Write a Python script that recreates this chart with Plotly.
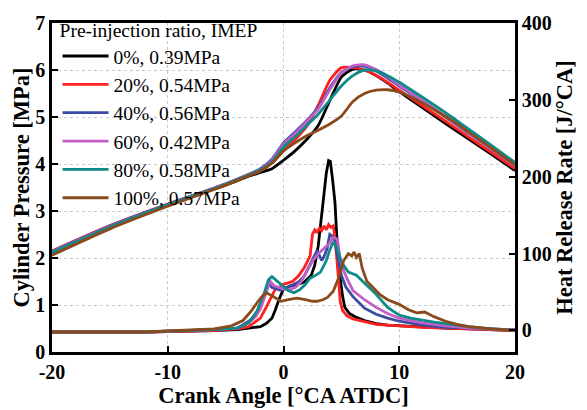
import plotly.graph_objects as go

names = ["0%, 0.39MPa", "20%, 0.54MPa", "40%, 0.56MPa", "60%, 0.42MPa", "80%, 0.58MPa", "100%, 0.57MPa"]
colors = ["#000000", "#ff2020", "#3b4aa3", "#c25ec6", "#0f8a8a", "#8b4a1c"]

# Cylinder pressure [MPa]
p_x = [-20, -15, -10, -5, -3, -2, -1, 0, 1, 2, 3, 4, 5, 6, 7, 8, 9, 10, 12, 14, 16, 18, 20]
p_black = [2.12, 2.66, 3.12, 3.55, 3.74, 3.82, 3.9, 4.08, 4.28, 4.52, 4.82, 5.35, 5.85, 6.02, 6.0, 5.88, 5.72, 5.54, 5.2, 4.86, 4.53, 4.2, 3.86]
p_red = [2.15, 2.69, 3.15, 3.57, 3.76, 3.86, 4.02, 4.28, 4.52, 4.8, 5.25, 5.78, 6.05, 6.05, 6.0, 5.89, 5.74, 5.57, 5.24, 4.91, 4.57, 4.24, 3.9]
p_blue = [2.14, 2.68, 3.14, 3.58, 3.78, 3.9, 4.1, 4.45, 4.68, 4.92, 5.2, 5.62, 5.95, 6.07, 6.08, 5.98, 5.83, 5.66, 5.33, 5.0, 4.65, 4.31, 3.96]
p_pink = [2.13, 2.67, 3.13, 3.58, 3.78, 3.89, 4.08, 4.42, 4.65, 4.9, 5.17, 5.58, 5.94, 6.09, 6.11, 6.01, 5.86, 5.68, 5.35, 5.01, 4.66, 4.31, 3.96]
p_teal = [2.12, 2.66, 3.13, 3.57, 3.77, 3.88, 4.05, 4.36, 4.58, 4.82, 5.06, 5.36, 5.66, 5.88, 6.0, 5.98, 5.88, 5.74, 5.42, 5.09, 4.74, 4.39, 4.03]
p_brown = [2.06, 2.62, 3.1, 3.55, 3.75, 3.85, 4.02, 4.28, 4.45, 4.6, 4.72, 4.85, 5.02, 5.33, 5.5, 5.57, 5.58, 5.53, 5.3, 5.01, 4.68, 4.33, 3.98]

# Heat release rate [J/°CA]
h_black_x = [-20, -12, -6, -4, -3, -2, -1.5, -1, -0.7, -0.4, 0, 0.6, 1.2, 1.8, 2.4, 2.7, 3.0, 3.2, 3.45, 3.7, 3.9, 4.05, 4.25, 4.45, 4.6, 4.75, 4.9, 5.1, 5.3, 5.7, 6.3, 7, 8, 9, 10, 12, 14, 16, 18, 20]
h_black = [-2, -2, 0, 1, 3, 5, 9, 16, 27, 40, 54, 58, 60, 63, 72, 85, 110, 135, 166, 205, 221, 220, 195, 166, 123, 95, 68, 45, 30, 22, 17, 13, 9, 7, 6, 4, 3, 2, 1, 0]
h_red_x = [-20, -12, -6, -4, -3, -2, -1.5, -1, -0.7, -0.3, 0, 0.4, 0.8, 1.3, 1.8, 2.3, 2.5, 2.7, 2.9, 3.1, 3.3, 3.5, 3.7, 3.9, 4.1, 4.3, 4.45, 4.6, 4.75, 4.9, 5.1, 5.5, 6, 7, 8, 10, 12, 14, 16, 18, 20]
h_red = [-2, -2, 0, 2, 5, 16, 30, 45, 54, 57, 60, 62, 64, 71, 82, 97, 125, 131, 128, 133, 130, 136, 131, 138, 134, 136, 120, 95, 60, 38, 26, 19, 15, 11, 8, 6, 4, 3, 2, 1, 0]
h_blue_x = [-20, -12, -6, -4, -3, -2.4, -2, -1.6, -1.3, -1, -0.6, -0.2, 0.3, 0.8, 1.3, 1.8, 2.2, 2.6, 2.9, 3.1, 3.3, 3.5, 3.75, 4.0, 4.2, 4.4, 4.6, 4.8, 5.0, 5.4, 6, 7, 8, 9, 10, 12, 14, 16, 18, 20]
h_blue = [-2, -2, 1, 3, 12, 20, 30, 48, 61, 56, 54, 52, 56, 59, 63, 71, 82, 95, 104, 98, 91, 96, 106, 125, 123, 118, 102, 85, 72, 56, 44, 29, 21, 16, 12, 7, 4, 3, 2, 1]
h_pink_x = [-20, -12, -6, -4, -3, -2.4, -2, -1.5, -1.15, -0.8, -0.4, 0, 0.5, 1.0, 1.5, 2.0, 2.5, 3.0, 3.5, 3.9, 4.3, 4.65, 4.9, 5.2, 5.5, 6, 7, 8, 9, 10, 12, 14, 16, 18, 20]
h_pink = [-2, -2, 1, 3, 10, 18, 28, 50, 64, 58, 56, 54, 53, 56, 63, 76, 90, 100, 106, 112, 121, 119, 93, 78, 67, 52, 40, 30, 22, 16, 10, 6, 3, 2, 1]
h_teal_x = [-20, -12, -6, -4, -3, -2.3, -1.7, -1.3, -1.0, -0.5, 0, 0.4, 0.9, 1.4, 1.9, 2.3, 2.8, 3.2, 3.7, 4.0, 4.3, 4.6, 5.0, 5.6, 6.3, 7.2, 8, 9, 10, 11, 12, 13, 14, 16, 18, 20]
h_teal = [-2, -2, 1, 3, 10, 25, 47, 66, 70, 64, 57, 52, 49, 53, 60, 68, 72, 76, 91, 105, 115, 108, 89, 76, 72, 59, 47, 30, 20, 16, 13, 11, 9, 5, 2, 0]
h_brown_x = [-20, -12, -6, -4.5, -3.5, -2.8, -2.2, -1.8, -1.45, -1.1, -0.6, -0.2, 0.4, 1.15, 1.9, 2.5, 2.9, 3.4, 3.8, 4.3, 4.75, 5.2, 5.6, 5.9, 6.1, 6.3, 6.55, 6.8, 7.2, 7.8, 8.3, 9, 10, 10.8, 11.5, 12.2, 13, 14, 15, 16, 18, 20]
h_brown = [-2, -2, 2, 6, 13, 25, 38, 45, 49, 46, 41, 38, 40, 42, 40, 38, 38, 40, 43, 51, 68, 91, 100, 97, 102, 95, 100, 81, 64, 55, 47, 40, 34, 27, 23, 24, 18, 12, 8, 5, 2, 0]

p_series = [p_black, p_red, p_blue, p_pink, p_teal, p_brown]
h_series = [(h_black_x, h_black), (h_red_x, h_red), (h_blue_x, h_blue),
            (h_pink_x, h_pink), (h_teal_x, h_teal), (h_brown_x, h_brown)]

fig = go.Figure()
for i in range(6):
    fig.add_trace(go.Scatter(x=p_x, y=p_series[i], mode="lines", name=names[i],
                             line=dict(color=colors[i], width=2.8, shape="spline", smoothing=0.6),
                             legendgroup=str(i)))
for i in range(6):
    hx, hy = h_series[i]
    fig.add_trace(go.Scatter(x=hx, y=hy, mode="lines", name=names[i], yaxis="y2",
                             line=dict(color=colors[i], width=2.8),
                             legendgroup=str(i), showlegend=False))

serif = "Liberation Serif, Times New Roman, serif"
tickfont = dict(family=serif, size=20, color="black")
titlefont = dict(family=serif, size=22.5, color="black")

fig.update_layout(
    width=587, height=410,
    margin=dict(l=52, r=72, t=16, b=58),
    paper_bgcolor="white", plot_bgcolor="white",
    font=dict(family=serif, color="black"),
    xaxis=dict(range=[-20, 20], tickvals=[-20, -10, 0, 10, 20],
               ticktext=["<b>-20</b>", "<b>-10</b>", "<b>0</b>", "<b>10</b>", "<b>20</b>"],
               tickfont=tickfont, ticks="inside", ticklen=6, tickwidth=2, tickcolor="black",
               showline=True, linecolor="black", linewidth=2.5, mirror=True,
               showgrid=True, gridcolor="#c8c8c8", griddash="dot", gridwidth=1,
               zeroline=False,
               title=dict(text="<b>Crank Angle [°CA ATDC]</b>", font=titlefont, standoff=0)),
    yaxis=dict(range=[0, 7], tickvals=list(range(8)),
               ticktext=["<b>%d</b>" % v for v in range(8)],
               tickfont=tickfont, ticks="inside", ticklen=6, tickwidth=2, tickcolor="black",
               showline=True, linecolor="black", linewidth=2.5,
               showgrid=True, gridcolor="#c8c8c8", griddash="dot", gridwidth=1,
               zeroline=False,
               title=dict(text="<b>Cylinder Pressure [MPa]</b>", font=titlefont, standoff=0)),
    yaxis2=dict(range=[-28, 400], overlaying="y", side="right",
                tickvals=[0, 100, 200, 300, 400],
                ticktext=["<b>%d</b>" % v for v in [0, 100, 200, 300, 400]],
                tickfont=tickfont, ticks="inside", ticklen=6, tickwidth=2, tickcolor="black",
                showline=True, linecolor="black", linewidth=2.5, showgrid=False,
                zeroline=False,
                title=dict(text="<b>Heat Release Rate [J/°CA]</b>", font=titlefont, standoff=2)),
    legend=dict(x=0.012, y=1.035, xanchor="left", yanchor="top",
                bgcolor="rgba(0,0,0,0)", borderwidth=0, maxheight=400,
                font=dict(family=serif, size=19.5, color="black"),
                title=dict(text="Pre-injection ratio, IMEP", font=dict(family=serif, size=19.5, color="black")),
                tracegroupgap=0, itemwidth=46),
    showlegend=True,
)

fig.write_html("out.html")
